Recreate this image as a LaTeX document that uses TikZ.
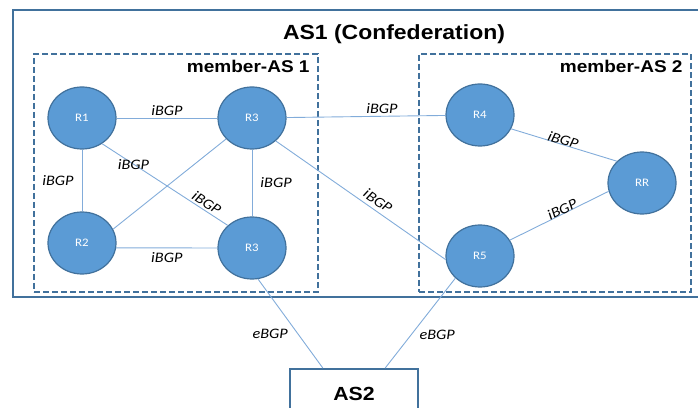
\documentclass[tikz,border=0pt]{standalone}
\usepackage{fontspec}
\setmainfont[FakeStretch=1.12]{Liberation Sans}
\newfontfamily\calfont[FakeStretch=1.12]{Carlito}
\usetikzlibrary{positioning,calc,shapes.geometric}
\definecolor{rtfill}{HTML}{5B9BD5}
\definecolor{rtdraw}{HTML}{41719C}
\definecolor{linkc}{RGB}{130,172,218}
\tikzset{
  router/.style={ellipse, draw=rtdraw, fill=rtfill, line width=1.2pt, minimum width=68pt, minimum height=62pt, inner sep=0pt, text=white, font=\calfont\fontsize{11.5}{11.5}\selectfont},
  link/.style={draw=linkc, line width=0.9pt},
  lbl/.style={font=\calfont\itshape\fontsize{14.5}{14.5}\selectfont, inner sep=2pt},
  asbox/.style={draw=rtdraw, line width=2pt},
  member/.style={draw=rtdraw, line width=1.6pt, dash pattern=on 6pt off 3pt},
  title/.style={font=\bfseries\fontsize{20.5}{20.5}\selectfont},
  sublbl/.style={font=\bfseries\fontsize{17}{17}\selectfont, inner sep=1pt},
}

\begin{document}
\begin{tikzpicture}[x=1pt, y=1pt]
  \useasboundingbox (0,0) rectangle (698,407);
  \clip (0,0) rectangle (698,407);

  % confederation and member ASes
  \draw[asbox] (13,110) rectangle (720,397);
  \node[title] (ttl) at (394,373) {AS1 (Confederation)};
  \node[member, minimum width=284pt, minimum height=238pt] (m1) at (176,234) {};
  \node[member, minimum width=272pt, minimum height=238pt] (m2) at (555,234) {};
  \node[sublbl, below left=6pt and 8pt of m1.north east] (m1lbl) {member-AS 1};
  \node[sublbl, below left=6pt and 8pt of m2.north east] (m2lbl) {member-AS 2};

  % external AS
  \node[asbox, font=\bfseries\fontsize{19}{19}\selectfont, minimum width=128pt, minimum height=50pt] (as2) at (354,13) {AS2};
  \coordinate (as2l) at ($(as2.north west)!0.26!(as2.north east)$);
  \coordinate (as2r) at ($(as2.north west)!0.74!(as2.north east)$);

  % routers
  \node[router] (R1) at (82,289) {R1};
  \node[router] (R3a) at (252,289) {R3};
  \node[router] (R2) at (82,164) {R2};
  \node[router] (R3b) at (252,159) {R3};
  \node[router] (R4) at (480,292) {R4};
  \node[router] (RR) at (642,224) {RR};
  \node[router] (R5) at (480,151) {R5};

  % sessions
  \draw[link] (R1) -- node[lbl, above] {iBGP} (R3a);
  \draw[link] (R1) -- node[lbl, left=6pt] {iBGP} (R2);
  \draw[link] (R1.-52) -- node[lbl, pos=0.25] {iBGP}
                          node[lbl, pos=0.8, sloped, above=0pt] {iBGP} (R3b.137);
  \draw[link] (R2.24) -- (R3a.219);
  \draw[link] (R3a) -- node[lbl, right=6pt] {iBGP} (R3b);
  \draw[link] (R2.-8) -- node[lbl, below=2pt] {iBGP} (R3b.west);
  \draw[link] (R3a) -- node[lbl, pos=0.6, above] {iBGP} (R4);
  \draw[link] (R3a.-44) -- node[lbl, pos=0.57, sloped, above=2pt] {iBGP} (R5.186);
  \draw[link] (R4.-24) -- node[lbl, pos=0.48, sloped, above=-3pt] {iBGP} (RR.139);
  \draw[link] (R5.28) -- node[lbl, pos=0.55, sloped, above=-3pt] {iBGP} (RR.194);
  \draw[link] (R3b.-79) -- node[lbl, pos=0.62, left=8pt] {eBGP} (as2l);
  \draw[link] (R5.222) -- node[lbl, pos=0.63, right=6pt] {eBGP} (as2r);
\end{tikzpicture}
\end{document}
